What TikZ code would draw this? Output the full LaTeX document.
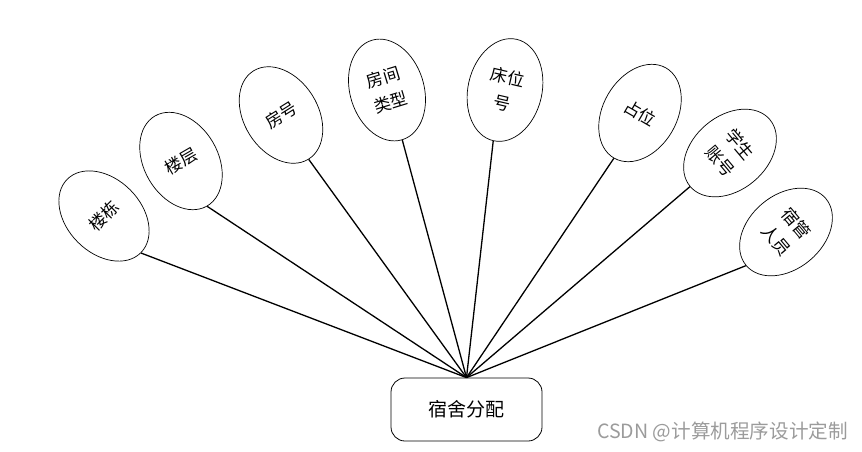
\documentclass[tikz,border=0pt]{standalone}
\usepackage{fontspec}
\setmainfont{Noto Sans CJK SC}
\usetikzlibrary{shapes.geometric}
\definecolor{wm}{RGB}{155,155,155}
\begin{document}
\begin{tikzpicture}[x=1pt,y=-1pt,
  attr/.style={ellipse, draw, line width=0.7pt, minimum width=74pt, minimum height=104pt,
    inner sep=0pt, align=center, font=\fontsize{17}{26}\selectfont},
  ent/.style={draw, rounded corners=14pt, line width=0.8pt, minimum width=151pt,
    minimum height=63pt, font=\fontsize{19}{22}\selectfont},
  link/.style={line width=1.3pt}]
\useasboundingbox (0,0) rectangle (862,451);
\node[ent] (e) at (466.5,409.5) {宿舍分配};
\node[attr, rotate=45]  (a1) at (104,216) {楼栋};
\node[attr, rotate=30]  (a2) at (181,161) {楼层};
\node[attr, rotate=32]  (a3) at (281,115) {房号};
\node[attr, rotate=17]  (a4) at (387,90)  {房间\\类型};
\node[attr, rotate=-13] (a5) at (505,90)  {床位\\号};
\node[attr, rotate=-30] (a6) at (640,113) {占位};
\node[attr, rotate=-50] (a7) at (730,153) {学生\\账号};
\node[attr, rotate=-50] (a8) at (786,232) {宿管\\人员};
\foreach \i in {1,...,8} \draw[link] (a\i.south) -- (e.north);
\node[anchor=west, text=wm, font=\fontsize{19.6}{22}\selectfont, inner sep=0pt] (wm) at (597,432) {CSDN @计算机程序设计定制};
\end{tikzpicture}
\end{document}
